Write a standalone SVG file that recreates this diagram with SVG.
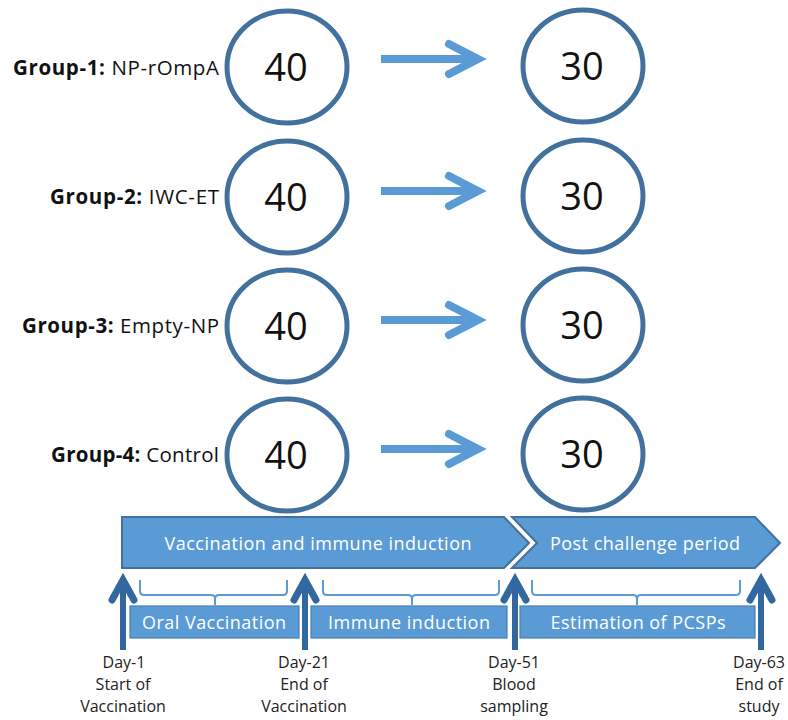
<svg xmlns="http://www.w3.org/2000/svg" width="788" height="720" viewBox="0 0 788 720">
<defs>
<style>
.lbl{font-family:"Open Sans","Liberation Sans",sans-serif;font-size:20.5px;fill:#111;text-anchor:end}
.b{font-weight:bold}
.num{font-family:"Open Sans","Liberation Sans",sans-serif;font-size:38px;fill:#111;text-anchor:middle}
.circ{fill:#fff;stroke:#41719C;stroke-width:5}
.flow{fill:none;stroke:#5B9BD5;stroke-width:8}
.head{fill:none;stroke:#5B9BD5;stroke-width:8;stroke-linecap:round;stroke-linejoin:miter}
.phase{fill:#5B9BD5;stroke:#41719C;stroke-width:2}
.box{fill:#5B9BD5;stroke:#4A7FB5;stroke-width:1.2}
.wt{font-family:"Open Sans","Liberation Sans",sans-serif;font-size:18px;fill:#fff;text-anchor:middle}
.brace{fill:none;stroke:#5B9BD5;stroke-width:2}
.up{fill:none;stroke:#31689F;stroke-width:6}
.uph{fill:none;stroke:#31689F;stroke-width:7;stroke-linecap:round;stroke-linejoin:miter}
.day{font-family:"Open Sans","Liberation Sans",sans-serif;font-size:16px;fill:#222;text-anchor:middle}
</style>
</defs>

<g id="group1">
<text class="lbl" x="219" y="75" textLength="206"><tspan class="b">Group-1:</tspan> NP-rOmpA</text>
<ellipse class="circ" cx="287" cy="67" rx="60" ry="56"/>
<text class="num" x="286" y="81">40</text>
<ellipse class="circ" cx="583" cy="66" rx="60" ry="56"/>
<text class="num" x="582" y="80">30</text>
</g>
<g id="group2">
<text class="lbl" x="219" y="204" textLength="169"><tspan class="b">Group-2:</tspan> IWC-ET</text>
<ellipse class="circ" cx="287" cy="197" rx="60" ry="56"/>
<text class="num" x="286" y="211">40</text>
<ellipse class="circ" cx="583" cy="196" rx="60" ry="56"/>
<text class="num" x="582" y="210">30</text>
</g>
<g id="group3">
<text class="lbl" x="219" y="333" textLength="197"><tspan class="b">Group-3:</tspan> Empty-NP</text>
<ellipse class="circ" cx="287" cy="326" rx="60" ry="56"/>
<text class="num" x="286" y="340">40</text>
<ellipse class="circ" cx="583" cy="325" rx="60" ry="56"/>
<text class="num" x="582" y="339">30</text>
</g>
<g id="group4">
<text class="lbl" x="219" y="462" textLength="168"><tspan class="b">Group-4:</tspan> Control</text>
<ellipse class="circ" cx="287" cy="455" rx="60" ry="56"/>
<text class="num" x="286" y="469">40</text>
<ellipse class="circ" cx="583" cy="454" rx="60" ry="56"/>
<text class="num" x="582" y="468">30</text>
</g>

<g id="connectors">
<path class="flow" d="M381,59 H474"/>
<path class="head" d="M449,44 L478,59 L449,74"/>
<path class="flow" d="M381,191 H474"/>
<path class="head" d="M449,176 L478,191 L449,206"/>
<path class="flow" d="M381,320 H474"/>
<path class="head" d="M449,305 L478,320 L449,335"/>
<path class="flow" d="M381,449 H474"/>
<path class="head" d="M449,434 L478,449 L449,464"/>
</g>

<g id="phase1">
<path class="phase" d="M122,517 H504 L529,543 L504,568 H122 Z"/>
<text class="wt" x="318" y="550" textLength="307">Vaccination and immune induction</text>
</g>
<g id="phase2">
<path class="phase" d="M512,517 H755 L780,543 L755,568 H512 L537,543 Z"/>
<text class="wt" x="645" y="550" textLength="190">Post challenge period</text>
</g>

<g id="braces">
<path class="brace" d="M140,580 V591 Q140,595 144,595 H211 Q215,595 215,599 V605 M215,599 Q215,595 219,595 H283 Q287,595 287,591 V580"/>
<path class="brace" d="M323,580 V591 Q323,595 327,595 H408 Q412,595 412,599 V605 M412,599 Q412,595 416,595 H495 Q499,595 499,591 V580"/>
<path class="brace" d="M532,580 V591 Q532,595 536,595 H633 Q637,595 637,599 V605 M637,599 Q637,595 641,595 H736 Q740,595 740,591 V580"/>
</g>

<g id="oral">
<rect class="box" x="130" y="606" width="169" height="32"/>
<text class="wt" x="214" y="629" textLength="144">Oral Vaccination</text>
</g>
<g id="immune">
<rect class="box" x="311" y="606" width="196" height="32"/>
<text class="wt" x="409" y="629" textLength="162">Immune induction</text>
</g>
<g id="estimation">
<rect class="box" x="520" y="606" width="235" height="32"/>
<text class="wt" x="638" y="629" textLength="175">Estimation of PCSPs</text>
</g>

<g id="markers">
<path class="up" d="M123,650 V582"/>
<path class="uph" d="M112,600 L123,580 L134,600"/>
<path class="up" d="M305,650 V582"/>
<path class="uph" d="M294,600 L305,580 L316,600"/>
<path class="up" d="M515,650 V582"/>
<path class="uph" d="M504,600 L515,580 L526,600"/>
<path class="up" d="M761,650 V582"/>
<path class="uph" d="M750,600 L761,580 L772,600"/>
</g>

<g id="day1">
<text class="day" x="124" y="668">Day-1</text>
<text class="day" x="123" y="690">Start of</text>
<text class="day" x="123" y="712">Vaccination</text>
</g>
<g id="day21">
<text class="day" x="304" y="668">Day-21</text>
<text class="day" x="304" y="690">End of</text>
<text class="day" x="304" y="712">Vaccination</text>
</g>
<g id="day51">
<text class="day" x="514" y="668">Day-51</text>
<text class="day" x="514" y="690">Blood</text>
<text class="day" x="514" y="712">sampling</text>
</g>
<g id="day63">
<text class="day" x="759" y="668">Day-63</text>
<text class="day" x="759" y="690">End of</text>
<text class="day" x="759" y="712">study</text>
</g>
</svg>
